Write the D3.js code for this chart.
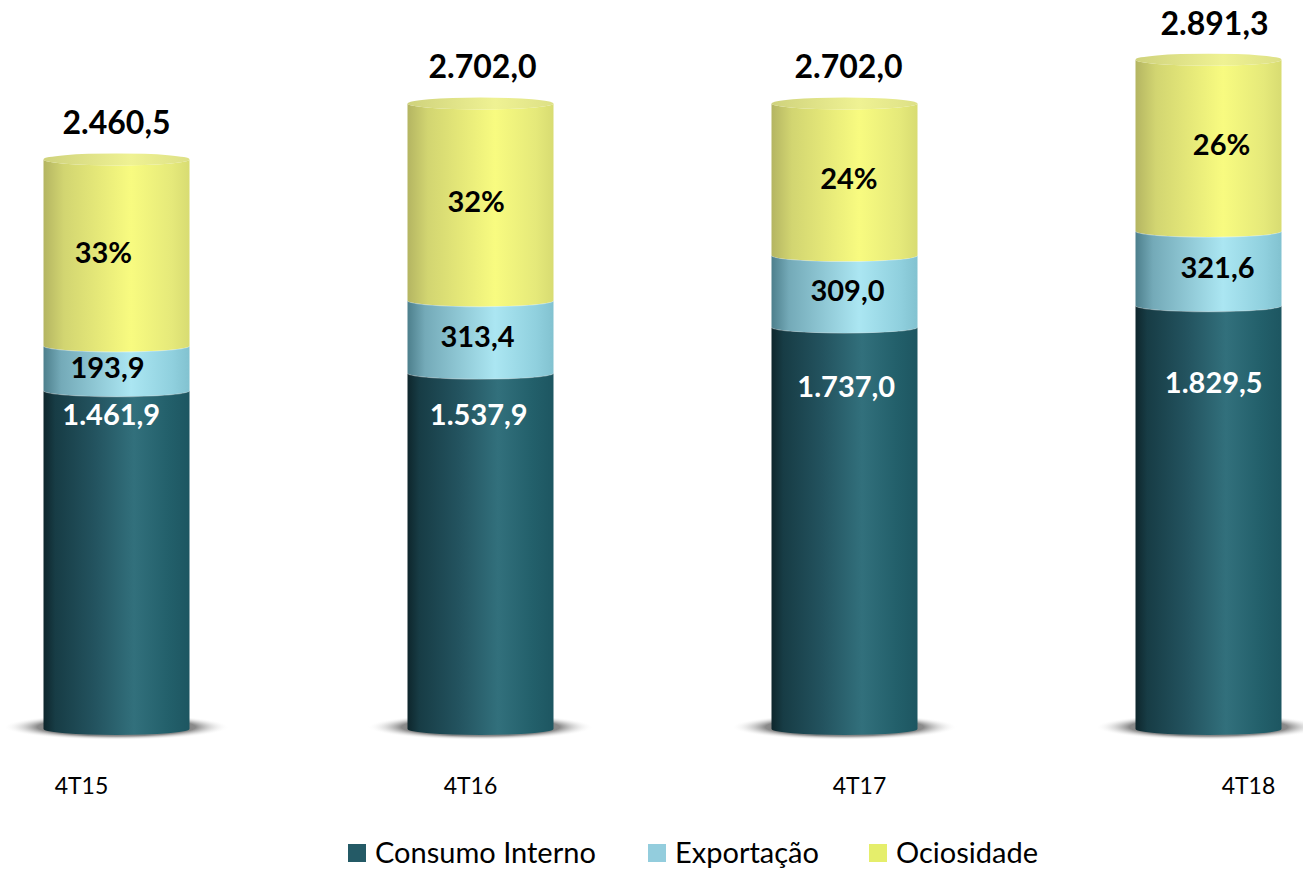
<!DOCTYPE html>
<html>
<head>
<meta charset="utf-8">
<script src="https://cdn.jsdelivr.net/npm/d3@7"></script>
<style>
  body { margin: 0; background: #fff; }
  svg { display: block; font-family: Lato, "Open Sans", sans-serif; }
</style>
</head>
<body>
<svg id="chart" width="1303" height="869"></svg>
<script>
// data
var categories = ["4T15", "4T16", "4T17", "4T18"];
var consumoInterno = [1461.9, 1537.9, 1737.0, 1829.5];
var exportacao = [193.9, 313.4, 309.0, 321.6];
var ociosidade = [804.7, 850.7, 656.0, 740.2];
var totalLabels = ["2.460,5", "2.702,0", "2.702,0", "2.891,3"];
var consumoLabels = ["1.461,9", "1.537,9", "1.737,0", "1.829,5"];
var exportLabels = ["193,9", "313,4", "309,0", "321,6"];
var ociosidadeLabels = ["33%", "32%", "24%", "26%"];
var seriesNames = ["Consumo Interno", "Exportação", "Ociosidade"];

var svg = d3.select("#chart");
var defs = svg.append("defs");

var x = d3.scalePoint().domain(categories).range([116.5, 1208.5]);
var xLabels = d3.scalePoint().domain(categories).range([81, 1248]);
var y = d3.scaleLinear().domain([0, 3000]).range([729, 34.5]);

var rx = 73, ry = 6;

//gradients, one per series
function hGrad(id, stops) {
  var g = defs.append("linearGradient").attr("id", id)
    .attr("x1", "0%").attr("x2", "100%").attr("y1", "0%").attr("y2", "0%");
  stops.forEach(function(s) {
    g.append("stop").attr("offset", s[0]).attr("stop-color", s[1]);
  });
}
hGrad("g-consumo", [[0, "#0e262c"], [0.08, "#173c45"], [0.35, "#23535f"], [0.62, "#32707c"], [0.85, "#23606b"], [1, "#1d5661"]]);
hGrad("g-export", [[0, "#4d7f8c"], [0.12, "#74aab8"], [0.6, "#abe6f2"], [0.88, "#90d0de"], [1, "#82c2d0"]]);
hGrad("g-ocio", [[0, "#b4b562"], [0.14, "#d2d571"], [0.6, "#f8fb80"], [0.88, "#e5e97a"], [1, "#d8dc72"]]);
hGrad("g-cap", [[0, "#cfd27c"], [0.6, "#eff293"], [1, "#dde086"]]);

var shadow = defs.append("radialGradient").attr("id", "g-shadow");
shadow.append("stop").attr("offset", 0).attr("stop-color", "#444").attr("stop-opacity", 1);
shadow.append("stop").attr("offset", 0.7).attr("stop-color", "#777").attr("stop-opacity", 0.85);
shadow.append("stop").attr("offset", 1).attr("stop-color", "#fff").attr("stop-opacity", 0);

var fills = ["url(#g-consumo)", "url(#g-export)", "url(#g-ocio)"];
var legendColors = ["#245a66", "#93cddd", "#e5ee6b"];

// stack it
var rows = categories.map(function(c, i) {
  return { cat: c, consumo: consumoInterno[i], exportacao: exportacao[i], ociosidade: ociosidade[i] };
});
var stack = d3.stack().keys(["consumo", "exportacao", "ociosidade"]);
var layers = stack(rows);

// shadows under cylinders
svg.append("g").selectAll("ellipse")
  .data(categories)
  .enter().append("ellipse")
  .attr("cx", function(d) { return x(d); })
  .attr("cy", y(0) - 2)
  .attr("rx", rx + 40)
  .attr("ry", ry + 7)
  .attr("fill", "url(#g-shadow)");

function body(cx, yTop, yBot) {
  return "M" + (cx - rx) + "," + yTop +
    "A" + rx + "," + ry + " 0 0 0 " + (cx + rx) + "," + yTop +
    "L" + (cx + rx) + "," + yBot +
    "A" + rx + "," + ry + " 0 0 1 " + (cx - rx) + "," + yBot + "Z";
}

var bars = svg.append("g");
layers.forEach(function(layer, k) {
  bars.append("g").selectAll("path")
    .data(layer)
    .enter().append("path")
    .attr("d", function(d) { return body(x(d.data.cat), y(d[1]), y(d[0])); })
    .attr("fill", fills[k]);
  //light seam at top of segment
  if (k < 2) {
    bars.append("g").selectAll("path")
      .data(layer)
      .enter().append("path")
      .attr("d", function(d) {
        var cx = x(d.data.cat), yy = y(d[1]);
        return "M" + (cx - rx) + "," + yy + "A" + rx + "," + ry + " 0 0 0 " + (cx + rx) + "," + yy;
      })
      .attr("fill", "none")
      .attr("stroke", "#ffffff")
      .attr("stroke-opacity", 0.35)
      .attr("stroke-width", 1.5);
  }
});

// top caps
var topLayer = layers[layers.length - 1];
bars.append("g").selectAll("ellipse")
  .data(topLayer)
  .enter().append("ellipse")
  .attr("cx", function(d) { return x(d.data.cat); })
  .attr("cy", function(d) { return y(d[1]); })
  .attr("rx", rx)
  .attr("ry", ry)
  .attr("fill", "url(#g-cap)");

// labels
var labels = svg.append("g").attr("font-weight", "bold").attr("text-anchor", "middle");

labels.selectAll(".total")
  .data(topLayer)
  .enter().append("text")
  .attr("class", "total")
  .attr("x", function(d, i) { return x(d.data.cat) + i * 2; })
  .attr("y", function(d) { return y(d[1]) - 25; })
  .attr("font-size", 32)
  .attr("fill", "#000")
  .text(function(d, i) { return totalLabels[i]; });

labels.selectAll(".pct")
  .data(layers[2])
  .enter().append("text")
  .attr("class", "pct")
  .attr("x", function(d, i) { return x(d.data.cat) + (i - 1.5) * 8.7; })
  .attr("y", function(d) { return (y(d[0]) + y(d[1])) / 2 + 10; })
  .attr("font-size", 29)
  .attr("fill", "#000")
  .text(function(d, i) { return ociosidadeLabels[i]; });

labels.selectAll(".exp")
  .data(layers[1])
  .enter().append("text")
  .attr("class", "exp")
  .attr("x", function(d, i) { return x(d.data.cat) + (i - 1.5) * 6; })
  .attr("y", function(d) { return (y(d[0]) + y(d[1])) / 2 + 10; })
  .attr("font-size", 29)
  .attr("fill", "#000")
  .text(function(d, i) { return exportLabels[i]; });

labels.selectAll(".cons")
  .data(layers[0])
  .enter().append("text")
  .attr("class", "cons")
  .attr("x", function(d, i) { return x(d.data.cat) + (i - 1.5) * 3.5; })
  .attr("y", function(d, i) { return y(d[1]) + 24 + i * 18 + 10; })
  .attr("font-size", 29)
  .attr("fill", "#fff")
  .text(function(d, i) { return consumoLabels[i]; });

// category axis
var xAxis = d3.axisBottom(xLabels).tickSize(0).tickPadding(0);
var axisG = svg.append("g").attr("transform", "translate(0,778)").call(xAxis);
axisG.select(".domain").remove();
axisG.selectAll("text")
  .attr("font-family", "Lato, sans-serif")
  .attr("font-size", 23)
  .attr("fill", "#000");

// legend
var legendX = [348, 648, 869];
var legend = svg.append("g").selectAll("g")
  .data(seriesNames)
  .enter().append("g")
  .attr("transform", function(d, i) { return "translate(" + legendX[i] + ",844)"; });
legend.append("rect")
  .attr("width", 18).attr("height", 18)
  .attr("fill", function(d, i) { return legendColors[i]; });
legend.append("text")
  .attr("x", 27).attr("y", 19)
  .attr("font-size", 29)
  .attr("fill", "#000")
  .text(function(d) { return d; });
</script>
</body>
</html>
